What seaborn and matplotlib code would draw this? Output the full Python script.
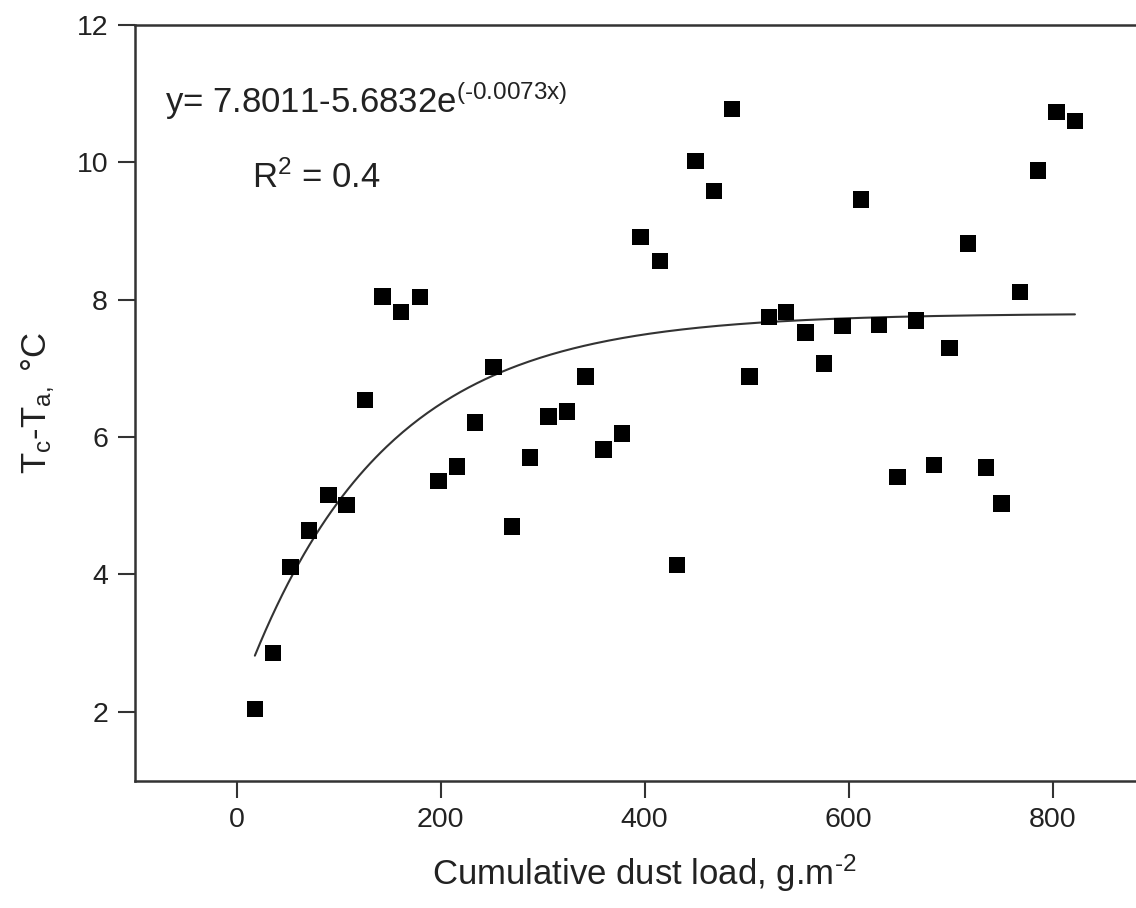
import numpy as np
import pandas as pd
import matplotlib
matplotlib.use("Agg")
import matplotlib.pyplot as plt
import seaborn as sns

# ---- data ----
dust_load = [18, 36, 53, 71, 90, 108, 126, 143, 161, 180, 198, 216, 234, 252,
             270, 288, 306, 324, 342, 360, 378, 396, 415, 432, 450, 468, 486,
             503, 522, 539, 558, 576, 594, 612, 630, 648, 666, 684, 699, 717,
             735, 750, 768, 786, 804, 822]
temp_diff = [2.04, 2.86, 4.11, 4.64, 5.16, 5.01, 6.54, 8.05, 7.82, 8.04, 5.36,
             5.57, 6.21, 7.02, 4.70, 5.70, 6.30, 6.37, 6.88, 5.82, 6.05, 8.91,
             8.56, 4.14, 10.02, 9.58, 10.78, 6.88, 7.75, 7.82, 7.52, 7.07, 7.62,
             9.46, 7.63, 5.42, 7.70, 5.59, 7.30, 8.82, 5.56, 5.03, 8.11, 9.88,
             10.73, 10.60]

# fitted model parameters (from the equation in the chart)
fit_a = 7.8011
fit_b = 5.6832
fit_k = 0.0073

x_ticks = [0, 200, 400, 600, 800]
y_ticks = [2, 4, 6, 8, 10, 12]

df = pd.DataFrame({"x": dust_load, "y": temp_diff})
xf = np.linspace(min(dust_load), max(dust_load), 300)
fit_df = pd.DataFrame({"x": xf, "y": fit_a - fit_b * np.exp(-fit_k * xf)})

sns.set_theme(style="white")
plt.rcParams["font.family"] = ["Liberation Sans", "DejaVu Sans"]
plt.rcParams["mathtext.fontset"] = "custom"
plt.rcParams["mathtext.rm"] = "Liberation Sans"
plt.rcParams["mathtext.it"] = "Liberation Sans"
plt.rcParams["mathtext.default"] = "regular"

fig = plt.figure(figsize=(11.36, 9.08), dpi=100)
fig.patch.set_facecolor("white")
ax = fig.add_axes([134.5 / 1136, (908 - 780.5) / 908, 1020 / 1136, 755.5 / 908])
ax.set_facecolor("white")

sns.lineplot(data=fit_df, x="x", y="y", ax=ax, color="#333333", linewidth=1.5,
             zorder=2)
sns.scatterplot(data=df, x="x", y="y", ax=ax, marker="s", s=140, color="black",
                edgecolor="none", linewidth=0, zorder=3)

ax.set_xlim(-100, 900)
ax.set_ylim(1, 12)
ax.set_xticks(x_ticks)
ax.set_yticks(y_ticks)
ax.tick_params(axis="both", direction="out", length=12, width=1.5,
               color="#333333", labelsize=20.5, labelcolor="#222222", pad=7,
               bottom=True, left=True)

for side in ["left", "bottom", "top"]:
    ax.spines[side].set_visible(True)
    ax.spines[side].set_linewidth(1.8)
    ax.spines[side].set_color("#333333")
ax.spines["right"].set_visible(False)

ax.set_xlabel(r"Cumulative dust load, g.m$^{\text{-2}}$", fontsize=25,
              color="#222222", labelpad=14)
ax.set_ylabel(r"T$_{c}$-T$_{a,}$ °C", fontsize=25, color="#222222", labelpad=14)

ax.text(-70, 10.72, r"y= 7.8011-5.6832e$^{\text{(-0.0073x)}}$", fontsize=25,
        color="#222222", va="baseline", ha="left")
ax.text(15, 9.63, r"R$^{2}$ = 0.4", fontsize=25, color="#222222",
        va="baseline", ha="left")

fig.savefig("out.png", dpi=100, facecolor="white")
